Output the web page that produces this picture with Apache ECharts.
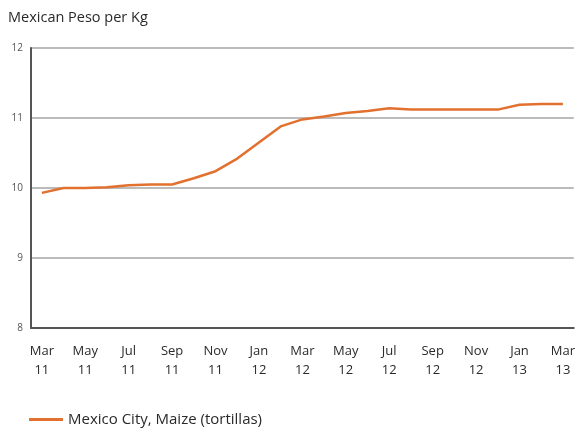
<!DOCTYPE html>
<html><head><meta charset="utf-8">
<script src="https://cdn.jsdelivr.net/npm/echarts@6/dist/echarts.min.js"></script>
<style>html,body{margin:0;padding:0;background:#fff}#c{width:578px;height:432px}</style>
</head><body><div id="c"></div>
<script>
var months = ['Mar\n11','Apr\n11','May\n11','Jun\n11','Jul\n11','Aug\n11','Sep\n11','Oct\n11','Nov\n11','Dec\n11',
  'Jan\n12','Feb\n12','Mar\n12','Apr\n12','May\n12','Jun\n12','Jul\n12','Aug\n12','Sep\n12','Oct\n12','Nov\n12','Dec\n12',
  'Jan\n13','Feb\n13','Mar\n13'];
var maize = [9.93,10.0,10.0,10.01,10.04,10.05,10.05,10.14,10.24,10.42,10.65,10.88,10.98,11.02,11.07,11.1,11.14,11.12,11.12,11.12,11.12,11.12,11.19,11.2,11.2];
var yTicks = [8,9,10,11,12];
var seriesName = 'Mexico City, Maize (tortillas)';
var title = 'Mexican Peso per Kg';

var chart = echarts.init(document.getElementById('c'));
var font = 'Open Sans, Liberation Sans, sans-serif';
chart.setOption({
  animation:false,
  title:{text:title,left:3,top:5,textStyle:{fontFamily:font,fontSize:14.5,fontWeight:'normal',color:'#2a2a2a'}},
  grid:{left:31,right:3,top:48,bottom:104},
  legend:{show:true,left:24,top:407,itemWidth:34,itemHeight:3,icon:'rect',itemGap:10,
    textStyle:{fontFamily:font,fontSize:15,color:'#2a2a2a'},data:[seriesName]},
  xAxis:[{
    type:'category',data:months,boundaryGap:true,
    axisLine:{lineStyle:{color:'#555',width:2}},
    axisTick:{alignWithLabel:true,interval:0,length:4,lineStyle:{color:'#444',width:1.5}},
    axisLabel:{interval:1,fontFamily:font,fontSize:13,color:'#2a2a2a',lineHeight:19,margin:14}
  },{
    type:'category',data:months,boundaryGap:true,position:'bottom',
    axisLine:{show:false},
    axisTick:{alignWithLabel:true,interval:1,length:7,lineStyle:{color:'#444',width:1.5}},
    axisLabel:{show:false}
  }],
  yAxis:{type:'value',min:8,max:12,interval:1,
    axisLine:{show:true,lineStyle:{color:'#555',width:2}},
    axisTick:{show:false},
    axisLabel:{fontFamily:font,fontSize:10,color:'#555',margin:8,
      formatter:function(v){return yTicks.indexOf(v)>=0?String(v):'';}},
    splitLine:{lineStyle:{color:'#bbb',width:2}}
  },
  series:[{name:seriesName,type:'line',data:maize,showSymbol:false,symbol:'none',
    lineStyle:{color:'#e2702e',width:2.5},itemStyle:{color:'#e2702e'}}]
});
</script></body></html>
